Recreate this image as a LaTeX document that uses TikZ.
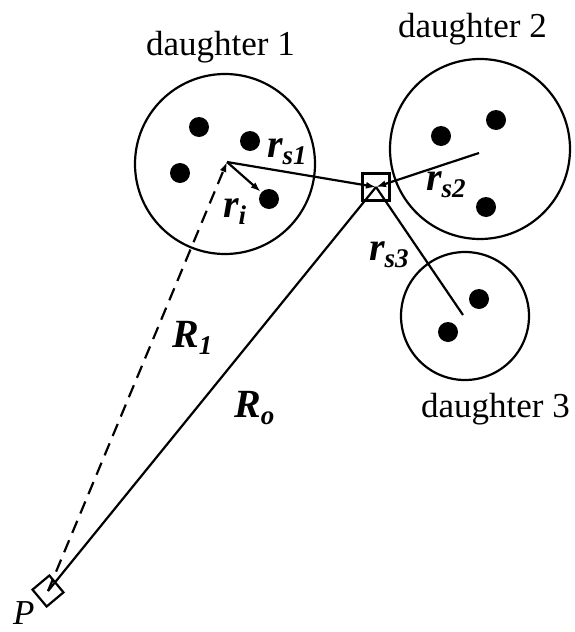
\documentclass[tikz,border=0pt]{standalone}
\usepackage{fontspec}
\setmainfont{Liberation Serif}
\usetikzlibrary{arrows.meta}
\newcommand{\lbl}[2]{{\fontsize{40}{44}\selectfont\bfseries\itshape #1}{\fontsize{27}{30}\selectfont\bfseries\itshape\raisebox{-7pt}{#2}}}
\begin{document}
\begin{tikzpicture}[x=1pt,y=-1pt,
  line width=2.2pt,
  ring/.style={draw,circle,inner sep=0pt,line width=2.2pt},
  dot/.style={fill,circle,inner sep=0pt,minimum size=20pt},
  txt/.style={inner sep=0pt,anchor=base west,font=\fontsize{35}{40}\selectfont},
  lab/.style={inner sep=0pt,anchor=base west},
  arr/.style={-{Latex[length=10pt,width=7pt]}},
  dsh/.style={dash pattern=on 13pt off 8pt}]
\useasboundingbox (0,0) rectangle (575,632);
% circles
\node[ring,minimum size=180pt] (d1) at (225,164) {};
\node[ring,minimum size=180pt] (d2) at (480,149) {};
\node[ring,minimum size=128pt] (d3) at (465,316) {};
% centres
\coordinate (c1) at (227,162);
\coordinate (c2) at (479,153);
\coordinate (c3) at (463,315);
% dots
\node[dot] (a1) at (199,127) {};
\node[dot] (a2) at (250,141) {};
\node[dot] (a3) at (180,173) {};
\node[dot] (a4) at (269,199) {};
\node[dot] (b1) at (441,136) {};
\node[dot] (b2) at (496,120) {};
\node[dot] (b3) at (486,207) {};
\node[dot] (e1) at (479,299) {};
\node[dot] (e2) at (448,332) {};
% observation box
\node[draw,rectangle,minimum size=27pt,inner sep=0pt] (bx) at (376,187) {};
% point P
\node[draw,rectangle,minimum size=22pt,inner sep=0pt,rotate=40] (p) at (48,591) {};
% connectors
\draw[arr] (c1) -- (bx.center);
\draw[arr] (c2) -- (bx.center);
\draw (c3) -- (bx.center);
\draw (p.center) -- (bx.center);
\draw[arr,dsh] (p.center) -- (c1);
\draw[arr] (c1) -- (a4);
% labels
\node[txt] (t1) at (145,55) {daughter 1};
\node[txt] (t2) at (397,37) {daughter 2};
\node[txt] (t3) at (420,417) {daughter 3};
\node[lab] (ls1) at (266,157) {\lbl{r}{s1}};
\node[lab] (li) at (222,217) {\lbl{r}{i}};
\node[lab] (ls2) at (425,190) {\lbl{r}{s2}};
\node[lab] (ls3) at (368,260) {\lbl{r}{s3}};
\node[lab] (lR1) at (171,347) {\lbl{R}{1}};
\node[lab] (lRo) at (233,417) {\lbl{R}{o}};
\node[lab] (lP) at (12,624) {\fontsize{35}{40}\selectfont\itshape P};
\end{tikzpicture}
\end{document}
